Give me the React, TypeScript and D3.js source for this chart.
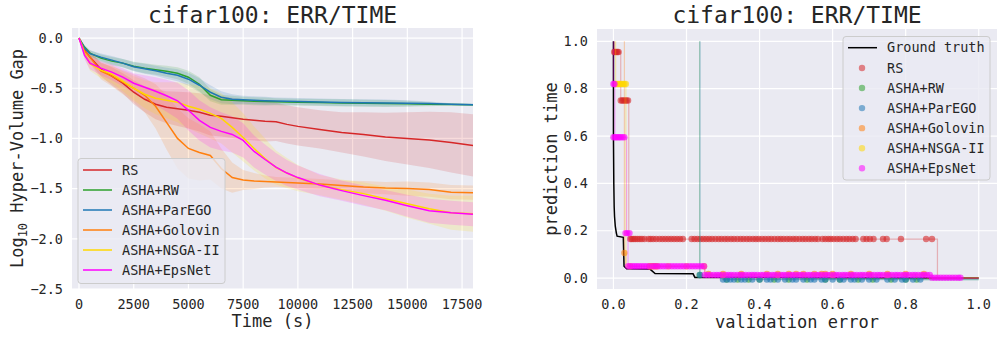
import * as d3 from 'd3'

const FONT = 'DejaVu Sans Mono, monospace'
const BG = '#eaeaf2'

// ---- left panel: hypervolume gap over time ----
const times = [0, 250, 500, 1000, 1500, 2000, 2500, 3000, 3500, 4000, 4500, 5000, 5500, 6000, 6500, 7000, 7500, 8000, 8500, 9000, 9500, 10000, 11000, 12000, 13000, 14000, 15000, 16000, 17000, 18000]

const rsMean = [0, -0.12, -0.19, -0.31, -0.38, -0.45, -0.54, -0.61, -0.66, -0.69, -0.705, -0.72, -0.74, -0.77, -0.78, -0.795, -0.81, -0.82, -0.83, -0.835, -0.86, -0.88, -0.91, -0.94, -0.96, -0.985, -1.0, -1.015, -1.04, -1.07]
const rsSpread = [0, 0.03, 0.05, 0.07, 0.09, 0.1, 0.12, 0.13, 0.15, 0.16, 0.17, 0.18, 0.19, 0.2, 0.2, 0.2, 0.2, 0.2, 0.2, 0.19, 0.19, 0.19, 0.19, 0.2, 0.22, 0.24, 0.26, 0.28, 0.3, 0.31]

const rwMean = [0, -0.09, -0.15, -0.2, -0.23, -0.25, -0.28, -0.3, -0.315, -0.33, -0.35, -0.39, -0.46, -0.57, -0.615, -0.62, -0.625, -0.63, -0.632, -0.635, -0.638, -0.64, -0.643, -0.646, -0.65, -0.652, -0.655, -0.66, -0.662, -0.665]
const rwSpread = [0, 0.02, 0.03, 0.035, 0.04, 0.04, 0.045, 0.05, 0.05, 0.055, 0.06, 0.065, 0.07, 0.06, 0.05, 0.045, 0.04, 0.04, 0.04, 0.035, 0.035, 0.035, 0.035, 0.035, 0.035, 0.035, 0.03, 0.02, 0.01, 0.01]

const paregoMean = [0, -0.1, -0.155, -0.19, -0.22, -0.25, -0.285, -0.305, -0.325, -0.35, -0.37, -0.41, -0.47, -0.54, -0.59, -0.61, -0.615, -0.62, -0.625, -0.628, -0.63, -0.633, -0.638, -0.642, -0.645, -0.648, -0.65, -0.652, -0.66, -0.665]
const paregoSpread = [0, 0.02, 0.03, 0.035, 0.04, 0.04, 0.045, 0.05, 0.05, 0.055, 0.06, 0.065, 0.07, 0.07, 0.06, 0.05, 0.04, 0.04, 0.04, 0.035, 0.035, 0.035, 0.035, 0.035, 0.035, 0.035, 0.03, 0.02, 0.01, 0.01]

const golovinMean = [0, -0.13, -0.19, -0.33, -0.38, -0.44, -0.5, -0.57, -0.68, -0.84, -1.0, -1.1, -1.14, -1.17, -1.3, -1.39, -1.415, -1.425, -1.43, -1.435, -1.44, -1.445, -1.455, -1.47, -1.485, -1.495, -1.5, -1.51, -1.535, -1.54]
const golovinSpread = [0, 0.04, 0.06, 0.08, 0.1, 0.12, 0.14, 0.17, 0.22, 0.27, 0.3, 0.3, 0.28, 0.24, 0.2, 0.15, 0.1, 0.08, 0.06, 0.05, 0.05, 0.05, 0.05, 0.05, 0.06, 0.06, 0.07, 0.07, 0.07, 0.07]

const nsgaMean = [0, -0.15, -0.255, -0.32, -0.36, -0.43, -0.5, -0.56, -0.6, -0.62, -0.64, -0.68, -0.71, -0.75, -0.8, -0.89, -0.99, -1.1, -1.2, -1.29, -1.345, -1.395, -1.465, -1.51, -1.55, -1.6, -1.65, -1.7, -1.74, -1.75]
const nsgaSpread = [0, 0.05, 0.07, 0.08, 0.09, 0.1, 0.12, 0.14, 0.16, 0.18, 0.2, 0.22, 0.24, 0.25, 0.25, 0.25, 0.24, 0.22, 0.2, 0.17, 0.15, 0.13, 0.1, 0.1, 0.11, 0.12, 0.14, 0.15, 0.17, 0.18]

const epsMean = [0, -0.17, -0.25, -0.3, -0.34, -0.39, -0.45, -0.49, -0.53, -0.575, -0.625, -0.72, -0.82, -0.89, -0.93, -0.96, -1.02, -1.13, -1.21, -1.285, -1.345, -1.39, -1.465, -1.52, -1.57, -1.615, -1.67, -1.72, -1.74, -1.755]
const epsSpread = [0, 0.04, 0.06, 0.07, 0.08, 0.09, 0.1, 0.12, 0.14, 0.16, 0.18, 0.2, 0.2, 0.2, 0.19, 0.18, 0.17, 0.16, 0.15, 0.14, 0.13, 0.12, 0.11, 0.1, 0.1, 0.1, 0.11, 0.12, 0.12, 0.12]

const methods = ['RS', 'ASHA+RW', 'ASHA+ParEGO', 'ASHA+Golovin', 'ASHA+NSGA-II', 'ASHA+EpsNet']
const colors = ['#d62728', '#2ca02c', '#1f77b4', '#ff7f0e', '#ffd700', '#ff00ff']
const means = [rsMean, rwMean, paregoMean, golovinMean, nsgaMean, epsMean]
const spreads = [rsSpread, rwSpread, paregoSpread, golovinSpread, nsgaSpread, epsSpread]

const timeTicks = [0, 2500, 5000, 7500, 10000, 12500, 15000, 17500]
const gapTicks = [0, -0.5, -1, -1.5, -2, -2.5]

// ---- right panel: pareto fronts ----
const groundTruth: [number, number][] = [
  [0.0, 1.0], [0.0, 0.6], [0.001, 0.4], [0.002, 0.3], [0.003, 0.26], [0.005, 0.22], [0.008, 0.19], [0.01, 0.177],
  [0.027, 0.172], [0.029, 0.05], [0.036, 0.039], [0.1, 0.038], [0.114, 0.019], [0.218, 0.018], [0.223, 0.003],
  [0.6, 0.002], [1.0, 0.0],
]

const rsFront: [number, number][] = [[0.003, 1.0], [0.003, 0.955], [0.02, 0.955], [0.02, 0.75], [0.042, 0.75], [0.042, 0.165], [0.887, 0.165], [0.887, 0.0], [1.0, 0.0]]
const rwFront: [number, number][] = [[0.236, 1.0], [0.236, 0.013], [0.3, 0.013], [0.3, -0.005], [0.84, -0.005], [0.84, -0.006], [1.0, -0.006]]
const paregoFront: [number, number][] = [[0.237, 1.0], [0.237, 0.013], [0.3, 0.013], [0.3, -0.006], [0.85, -0.006], [1.0, -0.006]]
const golovinFront: [number, number][] = [[0.03, 1.0], [0.03, 0.106], [0.034, 0.106], [0.034, 0.05], [0.25, 0.05], [0.25, 0.017], [0.86, 0.017], [0.86, 0.0], [1.0, 0.0]]
const nsgaFront: [number, number][] = [[0.006, 1.0], [0.006, 0.82], [0.034, 0.82], [0.034, 0.05], [0.25, 0.05], [0.25, 0.013], [0.87, 0.013], [0.87, 0.002], [1.0, 0.002]]
const epsFront: [number, number][] = [[0.0, 1.0], [0.0, 0.82], [0.004, 0.82], [0.004, 0.595], [0.036, 0.595], [0.036, 0.19], [0.04, 0.19], [0.04, 0.05], [0.25, 0.05], [0.25, 0.013], [0.87, 0.013], [0.87, 0.002], [0.95, 0.002], [0.95, 0.0], [1.0, 0.0]]
const fronts = [rsFront, rwFront, paregoFront, golovinFront, nsgaFront, epsFront]

// rows of observed points: [prediction time, validation errors]
const rsRows: [number, number[]][] = [
  [0.955, [0.002, 0.005, 0.008, 0.011, 0.014]],
  [0.75, [0.02, 0.024, 0.028, 0.032, 0.036, 0.04]],
  [0.165, [0.046, 0.05, 0.055, 0.06, 0.066, 0.072, 0.078, 0.085, 0.096, 0.102, 0.109, 0.117, 0.126, 0.134, 0.142, 0.15, 0.158, 0.166, 0.174, 0.182, 0.19,
    0.214, 0.222, 0.23, 0.238, 0.246, 0.254, 0.262, 0.27, 0.279, 0.288, 0.296, 0.305, 0.313, 0.322, 0.33, 0.339, 0.348, 0.356, 0.365, 0.373, 0.382, 0.39, 0.398,
    0.407, 0.415, 0.424, 0.432, 0.441, 0.45, 0.458, 0.466, 0.475, 0.483, 0.492, 0.5, 0.509, 0.518, 0.526, 0.535, 0.543, 0.552, 0.56, 0.572, 0.58, 0.588,
    0.595, 0.603, 0.612, 0.62, 0.629, 0.638, 0.646, 0.655, 0.663, 0.684, 0.693, 0.702, 0.712, 0.738, 0.748, 0.787, 0.856, 0.872]],
]
const rwRows: [number, number[]][] = [
  [0.013, [0.236]],
  [-0.006, [0.31, 0.34, 0.37, 0.4, 0.44, 0.48, 0.53, 0.58, 0.62, 0.67, 0.71, 0.76, 0.8, 0.83]],
]
const paregoRows: [number, number[]][] = [
  [0.013, [0.237]],
  [-0.006, [0.3, 0.31, 0.32, 0.33, 0.35, 0.36, 0.38, 0.4, 0.42, 0.43, 0.45, 0.47, 0.49, 0.5, 0.52, 0.54, 0.55, 0.57, 0.58, 0.6, 0.62, 0.63, 0.65, 0.66, 0.68,
    0.7, 0.72, 0.75, 0.77, 0.79, 0.8, 0.82, 0.84]],
]
const golovinRows: [number, number[]][] = [
  [0.106, [0.03]],
  [0.05, [0.1, 0.105, 0.11, 0.115, 0.12, 0.248]],
  [0.018, [0.26, 0.3, 0.35, 0.42, 0.45, 0.48, 0.5, 0.52, 0.55, 0.57, 0.58, 0.6, 0.65, 0.7, 0.75, 0.8, 0.85]],
]
const nsgaRows: [number, number[]][] = [
  [0.82, [0.006, 0.01, 0.014, 0.018, 0.022, 0.026, 0.03, 0.034]],
  [0.05, [0.045, 0.1, 0.15, 0.2]],
  [0.013, [0.3, 0.45, 0.6, 0.75]],
]
const epsRows: [number, number[]][] = [
  [0.82, [0.0, 0.003]],
  [0.595, [0.0, 0.004, 0.008, 0.012, 0.016, 0.02, 0.025, 0.03]],
  [0.19, [0.033, 0.038, 0.044]],
  [0.05, [0.04, 0.046, 0.052, 0.058, 0.064, 0.07, 0.077, 0.084, 0.091, 0.098, 0.106, 0.113, 0.12, 0.128, 0.136, 0.144, 0.152, 0.16, 0.168, 0.176,
    0.184, 0.192, 0.2, 0.208, 0.216, 0.224, 0.232, 0.24, 0.248]],
  [0.013, [0.25, 0.258, 0.266, 0.275, 0.283, 0.29, 0.298, 0.307, 0.315, 0.322, 0.33, 0.339, 0.347, 0.354, 0.362, 0.371, 0.379, 0.386, 0.394, 0.403,
    0.41, 0.418, 0.426, 0.435, 0.442, 0.45, 0.459, 0.466, 0.474, 0.483, 0.49, 0.498, 0.507, 0.514, 0.522, 0.531, 0.538, 0.546, 0.555, 0.562, 0.57,
    0.579, 0.586, 0.594, 0.603, 0.61, 0.618, 0.627, 0.634, 0.642, 0.651, 0.658, 0.666, 0.675, 0.682, 0.69, 0.699, 0.706, 0.714, 0.723, 0.73, 0.738,
    0.747, 0.754, 0.762, 0.771, 0.778, 0.786, 0.795, 0.802, 0.81, 0.819, 0.826, 0.834, 0.843, 0.85, 0.858, 0.866]],
  [0.002, [0.872, 0.88, 0.888, 0.896, 0.904, 0.912, 0.92, 0.928, 0.936, 0.944, 0.95]],
]
const pointRows = [rsRows, rwRows, paregoRows, golovinRows, nsgaRows, epsRows]

const unitTicks = [0, 0.2, 0.4, 0.6, 0.8, 1.0]

const L = { x0: 72, x1: 473, y0: 28, y1: 289 }
const R = { x0: 597, x1: 997, y0: 29, y1: 289 }

const fmtMinus = (s: string) => s.replace('-', '\u2212')

export default function App() {
  const xL = d3.scaleLinear().domain([-320, 18000]).range([L.x0, L.x1])
  const yL = d3.scaleLinear().domain([-2.5, 0.1]).range([L.y1, L.y0])
  const xR = d3.scaleLinear().domain([-0.045, 1.05]).range([R.x0, R.x1])
  const yR = d3.scaleLinear().domain([-0.046, 1.052]).range([R.y1, R.y0])

  const lineL = (vals: number[]) => d3.line<number>().x((_, i) => xL(times[i])).y(v => yL(v))(vals) || ''
  const bandL = (vals: number[], sp: number[]) =>
    d3.area<number>().x((_, i) => xL(times[i])).y0((v, i) => yL(v - sp[i])).y1((v, i) => yL(v + sp[i]))(vals) || ''
  const lineR = d3.line<[number, number]>().x(d => xR(d[0])).y(d => yR(d[1]))

  const drawOrder = [0, 1, 2, 3, 4, 5]

  return (
    <div style={{ position: 'absolute', left: 0, top: 0 }}>
      <svg width={997} height={339} style={{ display: 'block', background: '#fff' }} fontFamily={FONT}>
        <defs>
          <clipPath id="clipL"><rect x={L.x0} y={L.y0} width={L.x1 - L.x0} height={L.y1 - L.y0} /></clipPath>
          <clipPath id="clipR"><rect x={R.x0} y={R.y0} width={R.x1 - R.x0} height={R.y1 - R.y0} /></clipPath>
        </defs>

        {/* left panel */}
        <rect x={L.x0} y={L.y0} width={L.x1 - L.x0} height={L.y1 - L.y0} fill={BG} />
        {timeTicks.map(t => (
          <line key={'gx' + t} x1={xL(t)} x2={xL(t)} y1={L.y0} y2={L.y1} stroke="#fff" strokeWidth={1.2} />
        ))}
        {gapTicks.map(t => (
          <line key={'gy' + t} x1={L.x0} x2={L.x1} y1={yL(t)} y2={yL(t)} stroke="#fff" strokeWidth={1.2} />
        ))}
        <g clipPath="url(#clipL)">
          {drawOrder.map(i => (
            <path key={'b' + i} d={bandL(means[i], spreads[i])} fill={colors[i]} fillOpacity={0.16} stroke="none" />
          ))}
          {drawOrder.map(i => (
            <path key={'l' + i} d={lineL(means[i])} fill="none" stroke={colors[i]} strokeWidth={1.5} />
          ))}
        </g>
        {timeTicks.map(t => (
          <text key={'tx' + t} x={xL(t)} y={308.5} textAnchor="middle" fontSize={13.5} fill="#262626">{t}</text>
        ))}
        {gapTicks.map(t => (
          <text key={'ty' + t} x={63} y={yL(t)} dy="0.35em" textAnchor="end" fontSize={13.5} fill="#262626">{fmtMinus(t.toFixed(1))}</text>
        ))}
        <text x={(L.x0 + L.x1) / 2} y={327} textAnchor="middle" fontSize={17} fill="#262626">Time (s)</text>
        <text transform={`translate(23,${(L.y0 + L.y1) / 2}) rotate(-90)`} textAnchor="middle" fontSize={17} fill="#262626">
          <tspan>Log</tspan><tspan dy={4} fontSize={12}>10</tspan><tspan dy={-4}> Hyper-Volume Gap</tspan>
        </text>
        <text x={(L.x0 + L.x1) / 2} y={23} textAnchor="middle" fontSize={23} fill="#262626">cifar100: ERR/TIME</text>

        {/* left legend */}
        <rect x={78} y={158.5} width={147} height={125} rx={3} fill={BG} fillOpacity={0.8} stroke="#cccccc" strokeWidth={1} />
        {methods.map((m, i) => (
          <g key={'lg' + m}>
            <line x1={83} x2={112} y1={170 + i * 20} y2={170 + i * 20} stroke={colors[i]} strokeWidth={1.5} />
            <text x={122} y={170 + i * 20} dy="0.35em" fontSize={13.5} fill="#262626">{m}</text>
          </g>
        ))}

        {/* right panel */}
        <rect x={R.x0} y={R.y0} width={R.x1 - R.x0} height={R.y1 - R.y0} fill={BG} />
        {unitTicks.map(t => (
          <line key={'rgx' + t} x1={xR(t)} x2={xR(t)} y1={R.y0} y2={R.y1} stroke="#fff" strokeWidth={1.2} />
        ))}
        {unitTicks.map(t => (
          <line key={'rgy' + t} x1={R.x0} x2={R.x1} y1={yR(t)} y2={yR(t)} stroke="#fff" strokeWidth={1.2} />
        ))}
        <g clipPath="url(#clipR)">
          <path d={lineR(groundTruth) || ''} fill="none" stroke="#000" strokeWidth={1.5} />
          {drawOrder.map(i => (
            <g key={'s' + i}>
              <path d={lineR(fronts[i]) || ''} fill="none" stroke={colors[i]} strokeOpacity={0.3} strokeWidth={1.2} />
              {pointRows[i].flatMap(([y, xs]) =>
                xs.map(x => (
                  <circle key={`${i}-${y}-${x}`} cx={xR(x)} cy={yR(y)} r={3.2} fill={colors[i]} fillOpacity={0.6} />
                ))
              )}
            </g>
          ))}
        </g>
        {unitTicks.map(t => (
          <text key={'rtx' + t} x={xR(t)} y={308.5} textAnchor="middle" fontSize={13.5} fill="#262626">{t.toFixed(1)}</text>
        ))}
        {unitTicks.map(t => (
          <text key={'rty' + t} x={588} y={yR(t)} dy="0.35em" textAnchor="end" fontSize={13.5} fill="#262626">{t.toFixed(1)}</text>
        ))}
        <text x={(R.x0 + R.x1) / 2} y={328} textAnchor="middle" fontSize={17} fill="#262626">validation error</text>
        <text transform={`translate(557,${(R.y0 + R.y1) / 2}) rotate(-90)`} textAnchor="middle" fontSize={17} fill="#262626">prediction time</text>
        <text x={(R.x0 + R.x1) / 2} y={23} textAnchor="middle" fontSize={23} fill="#262626">cifar100: ERR/TIME</text>

        {/* right legend */}
        <rect x={843} y={36.5} width={147} height={143.5} rx={3} fill={BG} fillOpacity={0.8} stroke="#cccccc" strokeWidth={1} />
        <line x1={848} x2={877} y1={47.7} y2={47.7} stroke="#000" strokeWidth={1.5} />
        <text x={887} y={47.7} dy="0.35em" fontSize={13.5} fill="#262626">Ground truth</text>
        {methods.map((m, i) => (
          <g key={'rg' + m}>
            <circle cx={862} cy={68 + i * 20.05} r={3.2} fill={colors[i]} fillOpacity={0.55} />
            <text x={887} y={68 + i * 20.05} dy="0.35em" fontSize={13.5} fill="#262626">{m}</text>
          </g>
        ))}
      </svg>
    </div>
  )
}
